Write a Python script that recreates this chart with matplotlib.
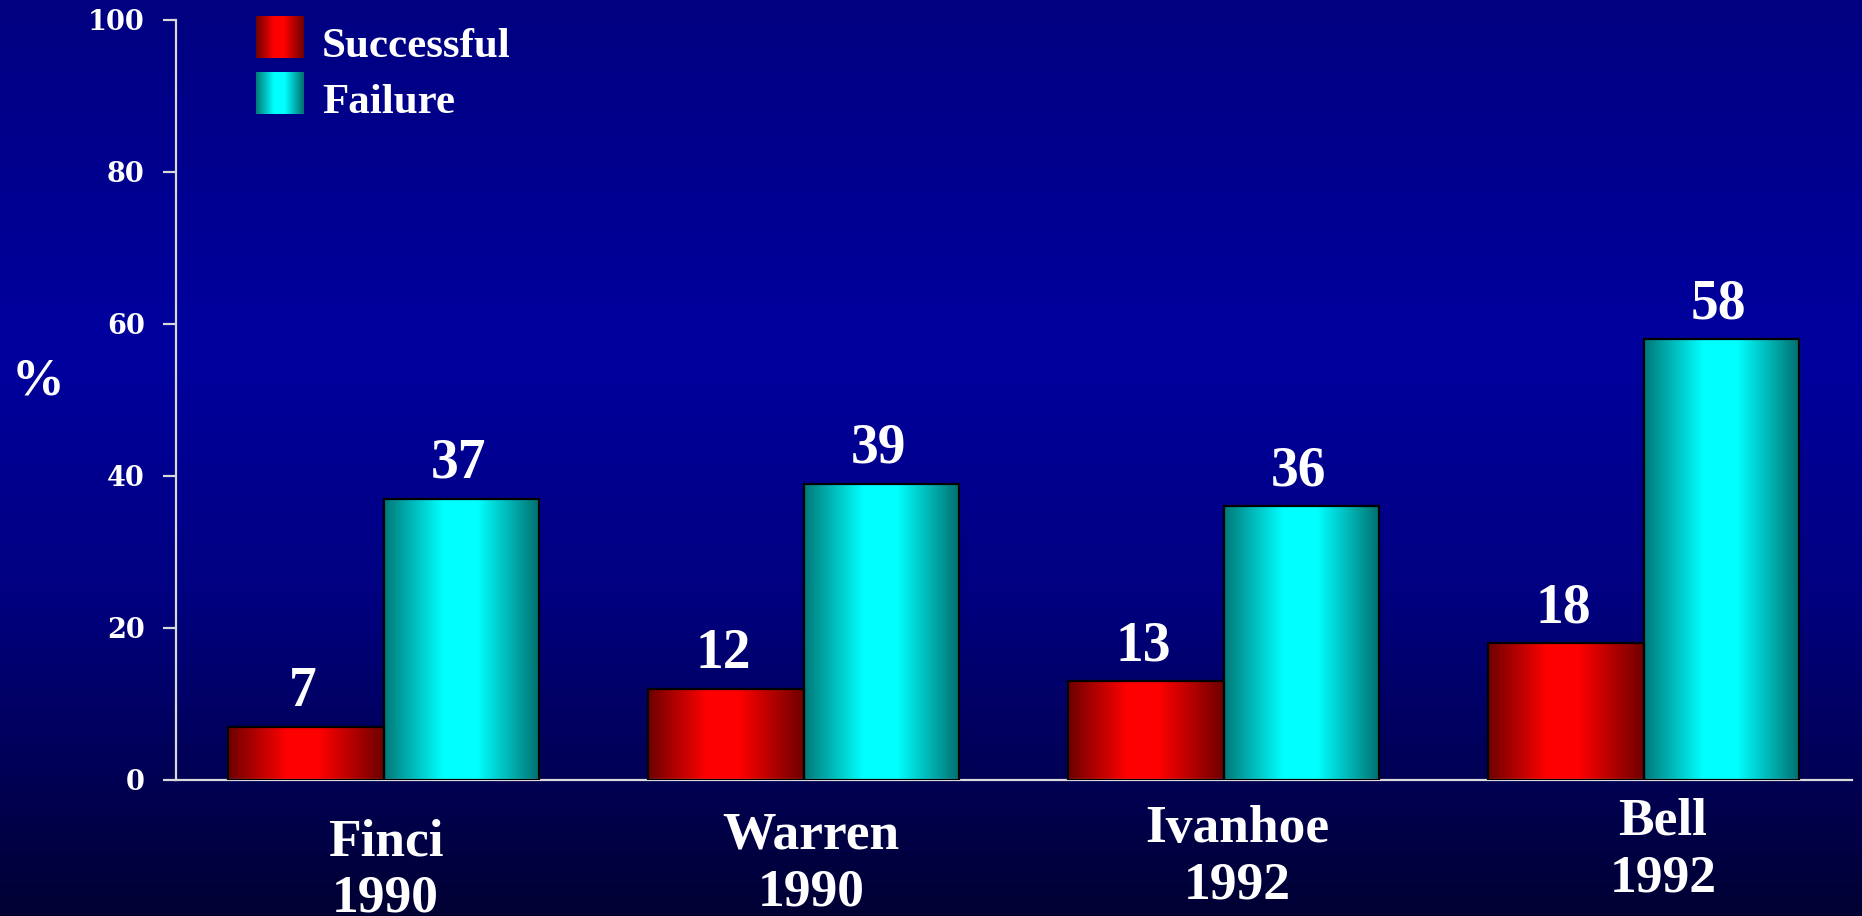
import numpy as np
import matplotlib.pyplot as plt
from matplotlib.colors import LinearSegmentedColormap

# ── data ──────────────────────────────────────────────────────────────────
studies = ["Finci", "Warren", "Ivanhoe", "Bell"]
years = ["1990", "1990", "1992", "1992"]
successful = [7, 12, 13, 18]
failure = [37, 39, 36, 58]
series_names = ["Successful", "Failure"]

W, H, DPI = 1862, 916, 100
serif = ["Liberation Serif", "DejaVu Serif"]

fig = plt.figure(figsize=(W / DPI, H / DPI), dpi=DPI)

# ── background: vertical blue gradient ───────────────────────────────────
bg = LinearSegmentedColormap.from_list(
    "bg", [(0.0, "#000080"), (0.38, "#00009E"), (0.65, "#000080"), (1.0, "#000033")])
bg_ax = fig.add_axes([0, 0, 1, 1], zorder=-10)
bg_ax.imshow(np.linspace(0, 1, 256).reshape(-1, 1), cmap=bg, aspect="auto",
             extent=[0, 1, 0, 1])
bg_ax.set_axis_off()

# horizontal "cylinder" shading for the bars
red_cm = LinearSegmentedColormap.from_list(
    "red", [(0.0, "#6E0000"), (0.38, "#FF0000"), (0.58, "#FF0000"), (1.0, "#6E0000")])
cyan_cm = LinearSegmentedColormap.from_list(
    "cyan", [(0.0, "#007878"), (0.38, "#00FFFF"), (0.6, "#00FFFF"), (1.0, "#006E6E")])
hgrad = np.linspace(0, 1, 256).reshape(1, -1)

ax = fig.add_axes([176 / W, 1 - 780 / H, (1852 - 176) / W, 760 / H])
ax.set_facecolor("none")

x = np.arange(len(studies))
bw = 0.37
groups = [
    ax.bar(x - bw / 2, successful, bw, facecolor="none", edgecolor="black", lw=1.6, zorder=3),
    ax.bar(x + bw / 2, failure, bw, facecolor="none", edgecolor="black", lw=1.6, zorder=3),
]

for bars, cm in zip(groups, [red_cm, cyan_cm]):
    for b in bars:
        x0, w, h = b.get_x(), b.get_width(), b.get_height()
        ax.imshow(hgrad, cmap=cm, aspect="auto", extent=[x0, x0 + w, 0, h],
                  zorder=2, interpolation="bilinear")
        ax.annotate(f"{h:g}", (x0 + w / 2, h), xytext=(-2, 15),
                    textcoords="offset points", ha="center", va="baseline",
                    color="white", fontsize=40, fontweight="bold", family=serif)

ax.set_xlim(-0.494, 3.496)
ax.set_ylim(0, 100)

# axes styling
for s in ["top", "right"]:
    ax.spines[s].set_visible(False)
for s in ["left", "bottom"]:
    ax.spines[s].set_color("#D8D8D8")
    ax.spines[s].set_linewidth(1.6)
ax.set_xticks([])
ax.set_yticks(range(0, 101, 20))
ax.tick_params(axis="y", direction="out", length=9.5, width=1.6,
               color="#D8D8D8", pad=13)
for lbl in ax.get_yticklabels():
    lbl.set_fontfamily(["DejaVu Serif"])
    lbl.set_fontweight("bold")
    lbl.set_fontsize(19.5)
    lbl.set_color("white")

# study / year labels under each pair, stepping slightly up and right
for i, (name, yr) in enumerate(zip(studies, years)):
    dx = (2 + 5.7 * i) * 0.72
    rise = 6.7 * i * 0.72
    ax.annotate(name, (i, 0), xytext=(dx, -54 + rise), textcoords="offset points",
                ha="center", va="baseline", color="white", fontsize=38.5,
                fontweight="bold", family=serif, annotation_clip=False)
    ax.annotate(yr, (i, 0), xytext=(dx, -95 + rise), textcoords="offset points",
                ha="center", va="baseline", color="white", fontsize=38.5,
                fontweight="bold", family=serif, annotation_clip=False)

fig.text(38 / W, 1 - 382 / H, "%", ha="center", va="center", color="white",
         fontsize=38, fontweight="bold", family=serif)

# legend with shaded swatches
for k, (name, cm) in enumerate(zip(series_names, [red_cm, cyan_cm])):
    top = 16 + 56 * k
    sw = fig.add_axes([256 / W, 1 - (top + 42) / H, 48 / W, 42 / H])
    sw.imshow(hgrad, cmap=cm, aspect="auto", interpolation="bilinear")
    sw.set_axis_off()
    fig.text(322 / W, 1 - (top + 41) / H, name, ha="left", va="baseline",
             color="white", fontsize=31, fontweight="bold", family=serif)

fig.savefig("out.png", dpi=DPI)
